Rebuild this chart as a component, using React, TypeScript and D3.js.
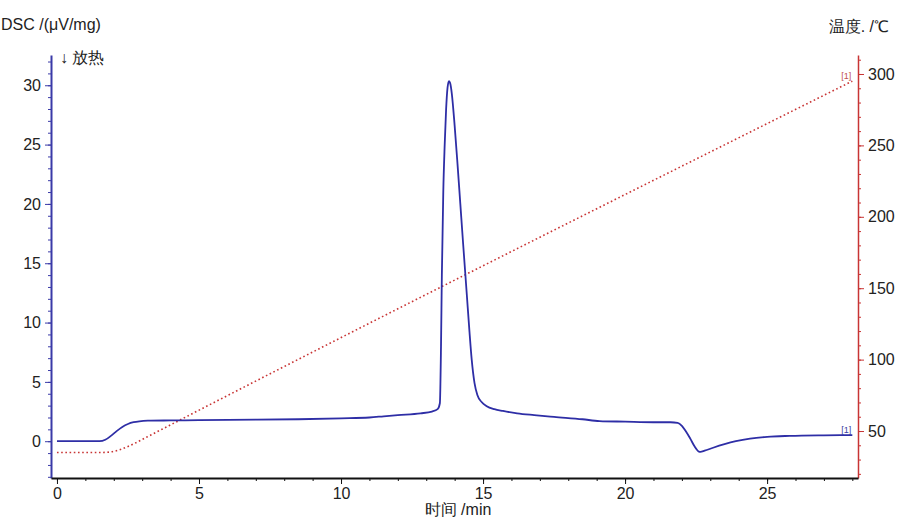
import React, { useEffect, useRef } from "react";
import * as d3 from "d3";

// DSC signal
const dscTime = [
  0, 1.5, 1.7, 1.9, 2.1, 2.3, 2.5, 2.7, 2.9, 3.2, 4, 5, 7, 8.5, 10, 11, 11.5, 12, 12.8, 13.2, 13.4,
  13.48, 13.52, 13.55, 13.6, 13.65, 13.7, 13.75, 13.8, 13.85, 13.9, 14.0, 14.1, 14.2, 14.3, 14.43,
  14.52, 14.6, 14.7, 14.8, 14.95, 15.13, 15.4, 15.7, 16.2, 16.8, 17.5, 18.5, 19.1, 20, 21, 21.6,
  21.85, 22.0, 22.15, 22.3, 22.45, 22.6, 22.65, 22.8, 23.1, 23.5, 23.9, 24.4, 25, 25.8, 27, 28,
];
const dscValue = [
  0, 0, 0.12, 0.45, 0.85, 1.2, 1.45, 1.6, 1.68, 1.73, 1.75, 1.77, 1.82, 1.85, 1.93, 2.0, 2.1, 2.2,
  2.35, 2.5, 2.7, 3.2, 8, 14, 21, 25, 28, 29.8, 30.35, 30.1, 29.3, 26.6, 23.4, 20.0, 16.6, 12.3, 9.3, 6.9,
  4.9, 3.9, 3.3, 2.95, 2.7, 2.55, 2.35, 2.2, 2.05, 1.85, 1.7, 1.65, 1.6, 1.6, 1.55, 1.3, 0.8, 0.2,
  -0.45, -0.88, -0.9, -0.8, -0.55, -0.25, 0.0, 0.22, 0.37, 0.45, 0.5, 0.52,
];

// temperature program
const tempTime = [0, 1.6, 1.9, 2.2, 2.5, 2.8, 3.15, 28];
const tempValue = [35, 35, 35.4, 36.8, 39.2, 42, 45.6, 295];

const xTicks = [0, 5, 10, 15, 20, 25];
const dscTicks = [0, 5, 10, 15, 20, 25, 30];
const tempTicks = [50, 100, 150, 200, 250, 300];

export default function App() {
  const svgRef = useRef<SVGSVGElement>(null);

  useEffect(() => {
    const width = 900;
    const height = 518;
    const font = "'Liberation Sans', Arial, sans-serif";
    const svg = d3.select(svgRef.current)
      .attr("width", width)
      .attr("height", height)
      .style("font-family", font);
    svg.selectAll("*").remove();

    const blue = "#2e2ea6";
    const red = "#c83434";
    const axisBlue = "#3a3aa8";
    const textGrey = "#222";

    const x = d3.scaleLinear().domain([-0.21, 28.2]).range([51, 858]);
    const yDsc = d3.scaleLinear().domain([-3.1, 32.55]).range([478, 55]);
    const yTemp = d3.scaleLinear().domain([17.1, 313.3]).range([478, 55]);

    const styleLabels = (g: any) =>
      g.selectAll("text").attr("fill", textGrey).attr("font-size", 16).attr("font-family", font);

    // left axis
    const left = svg.append("g").attr("transform", `translate(${x.range()[0]},0)`);
    left.append("g")
      .call(d3.axisLeft(yDsc).tickValues(d3.range(-3, 33, 1)).tickSize(3).tickFormat(() => ""))
      .call(g => g.select(".domain").remove())
      .attr("color", axisBlue);
    left.append("g")
      .call(d3.axisLeft(yDsc).tickValues(dscTicks).tickSize(6).tickSizeOuter(0).tickPadding(4))
      .attr("color", axisBlue)
      .call(g => g.select(".domain").attr("stroke-width", 2))
      .call(styleLabels);

    // right axis
    const right = svg.append("g").attr("transform", `translate(${x.range()[1]},0)`);
    right.append("g")
      .call(d3.axisRight(yTemp).tickValues(d3.range(20, 311, 10)).tickSize(3).tickFormat(() => ""))
      .call(g => g.select(".domain").remove())
      .attr("color", red);
    right.append("g")
      .call(d3.axisRight(yTemp).tickValues(tempTicks).tickSize(6).tickSizeOuter(0).tickPadding(4))
      .attr("color", red)
      .call(g => g.select(".domain").attr("stroke-width", 1.5))
      .call(styleLabels);

    // bottom axis
    const bottom = svg.append("g").attr("transform", `translate(0,${yDsc.range()[0]})`);
    bottom.append("g")
      .call(d3.axisBottom(x).tickValues(d3.range(0, 29, 1)).tickSize(3).tickFormat(() => ""))
      .call(g => g.select(".domain").remove())
      .attr("color", "#111");
    bottom.append("g")
      .call(d3.axisBottom(x).tickValues(xTicks).tickSize(6).tickSizeOuter(0).tickPadding(4))
      .attr("color", "#111")
      .call(g => g.select(".domain").attr("stroke-width", 2))
      .call(styleLabels);

    // temperature line (dotted)
    const tempLine = d3.line<number>()
      .x((d, i) => x(tempTime[i]))
      .y(d => yTemp(d))
      .curve(d3.curveMonotoneX);
    svg.append("path")
      .attr("d", tempLine(tempValue))
      .attr("fill", "none")
      .attr("stroke", red)
      .attr("stroke-width", 1.6)
      .attr("stroke-dasharray", "1.6,2.6");

    // DSC line
    const dscLine = d3.line<number>()
      .x((d, i) => x(dscTime[i]))
      .y(d => yDsc(d))
      .curve(d3.curveMonotoneX);
    svg.append("path")
      .attr("d", dscLine(dscValue))
      .attr("fill", "none")
      .attr("stroke", blue)
      .attr("stroke-width", 1.8);

    // curve markers
    svg.append("text")
      .attr("x", x(tempTime[tempTime.length - 1]) - 1)
      .attr("y", yTemp(tempValue[tempValue.length - 1]) - 2)
      .attr("text-anchor", "end")
      .attr("font-size", 9)
      .attr("fill", "#c05050")
      .text("[1]");
    svg.append("text")
      .attr("x", x(dscTime[dscTime.length - 1]) - 1)
      .attr("y", yDsc(dscValue[dscValue.length - 1]) - 2)
      .attr("text-anchor", "end")
      .attr("font-size", 9)
      .attr("fill", "#4040a0")
      .text("[1]");

    // titles
    svg.append("text").attr("x", 1).attr("y", 30).attr("font-size", 16).attr("fill", textGrey).text("DSC /(μV/mg)");
    svg.append("text").attr("x", 60).attr("y", 63).attr("font-size", 16).attr("fill", textGrey).text("↓ 放热");
    svg.append("text").attr("x", 889).attr("y", 32).attr("text-anchor", "end").attr("font-size", 16).attr("fill", textGrey).text("温度. /℃");
    svg.append("text").attr("x", 458).attr("y", 515).attr("text-anchor", "middle").attr("font-size", 16).attr("fill", textGrey).text("时间 /min");
  }, []);

  return (
    <div style={{ position: "absolute", left: 0, top: 0, width: 900, height: 518, overflow: "hidden", background: "#fff" }}>
      <svg ref={svgRef}></svg>
    </div>
  );
}
